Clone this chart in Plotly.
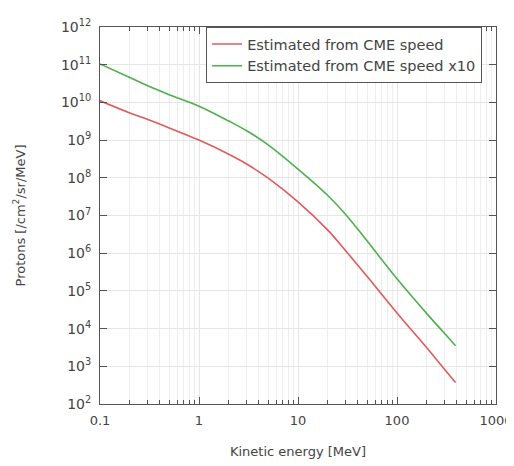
import plotly.graph_objects as go

# Data
energy = [0.1, 0.2, 0.3, 0.5, 1, 2, 3, 5, 10, 20, 30, 50, 100, 200, 300, 390]
flux_red = [1.1e10, 5.25e9, 3.55e9, 2.1e9, 1.0e9, 4.2e8, 2.35e8, 9.8e7, 2.3e7,
            4.1e6, 1.2e6, 2.4e5, 2.6e4, 3.1e3, 8.5e2, 3.7e2]
flux_green = [1.05e11, 4.6e10, 2.8e10, 1.6e10, 7.9e9, 3.2e9, 1.8e9, 7.5e8, 1.7e8,
              3.4e7, 1.1e7, 2.1e6, 2.1e5, 2.5e4, 7.6e3, 3.5e3]
series_names = ["Estimated from CME speed", "Estimated from CME speed x10"]

x_tickvals = [0.1, 1, 10, 100, 1000]
x_ticktext = ["0.1", "1", "10", "100", "1000"]
y_exponents = list(range(2, 13))

x_minor = [m * 10 ** d for d in range(-1, 3) for m in range(2, 10)]

FONT = "DejaVu Sans, Verdana, sans-serif"

fig = go.Figure()
fig.add_trace(go.Scatter(x=energy, y=flux_red, mode="lines", name=series_names[0],
                         line=dict(color="#e05a5a", width=1.6, shape="spline", smoothing=1.0)))
fig.add_trace(go.Scatter(x=energy, y=flux_green, mode="lines", name=series_names[1],
                         line=dict(color="#4db04d", width=1.6, shape="spline", smoothing=1.0)))

axis_common = dict(showline=True, linecolor="#555", linewidth=1, mirror="ticks",
                   ticks="inside", tickcolor="#555", gridcolor="#e6e6e6", gridwidth=1,
                   zeroline=False)

fig.update_xaxes(type="log", range=[-1, 3], tickvals=x_tickvals, ticktext=x_ticktext,
                 ticklen=7, showgrid=True, ticklabeloverflow="allow", ticklabelstandoff=4,
                 tickfont=dict(size=13, color="#444", family=FONT),
                 minor=dict(tickvals=x_minor, ticks="inside", ticklen=4, tickcolor="#555",
                            showgrid=True, gridcolor="#eeeeee"),
                 title=dict(text="Kinetic energy [MeV]", font=dict(size=13, color="#444", family=FONT), standoff=20),
                 **axis_common)
fig.update_yaxes(type="log", range=[2, 12], tickvals=[10 ** e for e in y_exponents],
                 ticktext=[f"10<sup>{e}</sup>" for e in y_exponents], ticklen=7, showgrid=True,
                 tickfont=dict(size=14, color="#444", family=FONT), ticklabelstandoff=5,
                 title=dict(text="Protons [/cm<sup>2</sup>/sr/MeV]", font=dict(size=13, color="#444", family=FONT), standoff=32),
                 **axis_common)

fig.update_layout(
    width=514, height=466,
    margin=dict(l=92, r=24, t=9, b=70),
    plot_bgcolor="white", paper_bgcolor="white",
    font=dict(family=FONT, color="#444"),
    legend=dict(x=0.268, y=1.0, xanchor="left", yanchor="top", bgcolor="white",
                bordercolor="#555", borderwidth=1, font=dict(size=14.5, color="#444", family=FONT),
                tracegroupgap=0, itemwidth=30),
    showlegend=True,
)

fig.write_html("out.html")
